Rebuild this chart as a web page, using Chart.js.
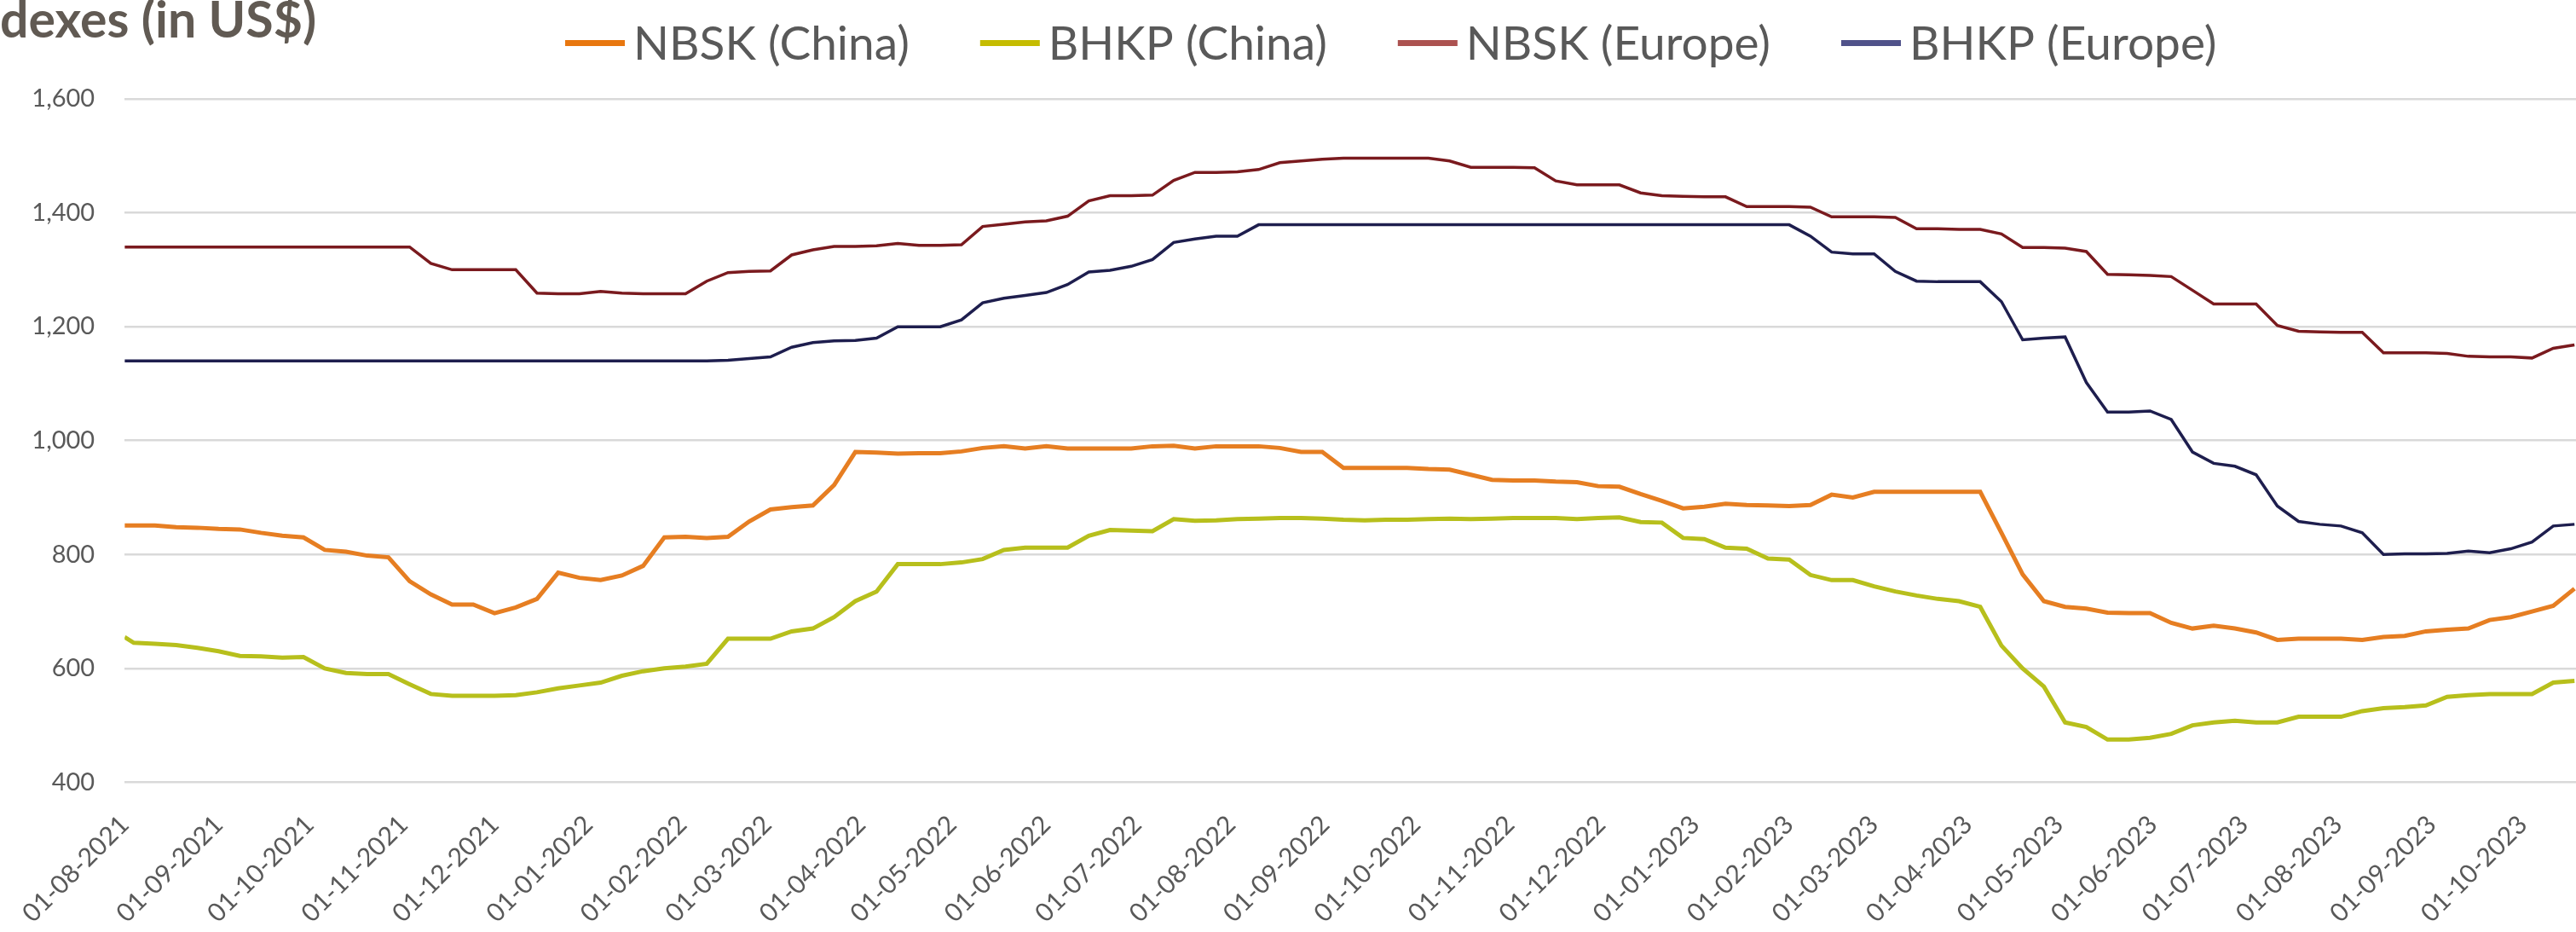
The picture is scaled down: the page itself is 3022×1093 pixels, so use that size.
<!DOCTYPE html>
<html>
<head>
<meta charset="utf-8">
<script src="https://cdn.jsdelivr.net/npm/chart.js@4.4.0/dist/chart.umd.min.js"></script>
<style>
  html, body { margin: 0; padding: 0; background: #ffffff; overflow: hidden; }
  #wrap { width: 3022px; height: 1093px; position: relative; }
</style>
</head>
<body>
<div id="wrap"><canvas id="c" width="3022" height="1093"></canvas></div>
<script>
// ---- Data ----
const titleText = 'dexes (in US$)';
const seriesLabels = ['NBSK (China)', 'BHKP (China)', 'NBSK (Europe)', 'BHKP (Europe)'];
const axisStartDate = '2021-08-01';   // first observation / axis start
const weeklyStartDate = '2021-08-04'; // weekly observations after the first one
const axisEndDay = 808.5;

const monthLabels = [
  '01-08-2021','01-09-2021','01-10-2021','01-11-2021','01-12-2021',
  '01-01-2022','01-02-2022','01-03-2022','01-04-2022','01-05-2022','01-06-2022',
  '01-07-2022','01-08-2022','01-09-2022','01-10-2022','01-11-2022','01-12-2022',
  '01-01-2023','01-02-2023','01-03-2023','01-04-2023','01-05-2023','01-06-2023',
  '01-07-2023','01-08-2023','01-09-2023','01-10-2023'
];

const nbskChina = [851,
  851, 851, 848, 847, 845, 844, 838, 833, 830, 808,
  805, 798, 795, 753, 730, 712, 712, 697, 707, 722,
  768, 759, 755, 763, 780, 830, 831, 829, 831, 858,
  879, 883, 886, 922, 980, 979, 977, 978, 978, 981,
  987, 990, 986, 990, 986, 986, 986, 986, 990, 991,
  986, 990, 990, 990, 987, 980, 980, 952, 952, 952,
  952, 950, 949, 940, 931, 930, 930, 928, 927, 920,
  919, 906, 894, 881, 884, 889, 887, 886, 885, 887,
  905, 900, 910, 910, 910, 910, 910, 910, 838, 765,
  718, 708, 705, 698, 697, 697, 680, 670, 675, 670,
  663, 650, 652, 652, 652, 650, 655, 657, 665, 668,
  670, 685, 690, 700, 710, 740];

const bhkpChina = [655,
  645, 643, 641, 636, 630, 622, 621, 619, 620, 600,
  592, 590, 590, 572, 555, 552, 552, 552, 553, 558,
  565, 570, 575, 587, 595, 600, 603, 608, 652, 652,
  652, 665, 670, 690, 718, 735, 783, 783, 783, 786,
  792, 808, 812, 812, 812, 833, 843, 842, 841, 862,
  859, 860, 862, 863, 864, 864, 863, 861, 860, 861,
  861, 862, 863, 862, 863, 864, 864, 864, 862, 864,
  865, 857, 856, 829, 827, 812, 810, 793, 791, 764,
  755, 755, 744, 735, 728, 722, 718, 708, 640, 600,
  568, 505, 497, 475, 475, 478, 485, 500, 505, 508,
  505, 505, 515, 515, 515, 525, 530, 532, 535, 550,
  553, 555, 555, 555, 575, 578];

const nbskEurope = [1340,
  1340, 1340, 1340, 1340, 1340, 1340, 1340, 1340, 1340, 1340,
  1340, 1340, 1340, 1340,
  1311, 1300, 1300, 1300, 1300,
  1259, 1258, 1258, 1262, 1259, 1258, 1258, 1258,
  1280, 1295, 1297, 1298,
  1326, 1335, 1341, 1341, 1342, 1346, 1343, 1343, 1344,
  1376, 1380, 1384, 1386, 1394,
  1421, 1430, 1430, 1431,
  1457, 1471, 1471, 1472, 1476, 1488, 1491, 1494, 1496, 1496, 1496, 1496, 1496,
  1491, 1480, 1480, 1480, 1479,
  1456, 1449, 1449, 1449,
  1435, 1430, 1429, 1428, 1428,
  1411, 1411, 1411, 1410,
  1393, 1393, 1393, 1392,
  1372, 1372, 1371, 1371,
  1363, 1339, 1339, 1338, 1332,
  1292, 1291, 1290, 1288,
  1264, 1240, 1240, 1240,
  1202, 1192, 1191, 1190, 1190,
  1154, 1154, 1154, 1153,
  1148, 1147, 1147, 1145,
  1162, 1168];

const bhkpEurope = [1140,
  1140, 1140, 1140, 1140, 1140, 1140, 1140, 1140, 1140, 1140,
  1140, 1140, 1140, 1140, 1140, 1140, 1140, 1140, 1140, 1140,
  1140, 1140, 1140, 1140, 1140, 1140, 1140, 1140,
  1141, 1144, 1147, 1164, 1172, 1175, 1176, 1180,
  1200, 1200, 1200, 1212, 1242, 1250, 1255, 1260, 1274, 1296, 1299, 1306, 1318, 1348, 1354, 1359, 1359,
  1379, 1379, 1379, 1379, 1379, 1379, 1379, 1379, 1379, 1379, 1379, 1379, 1379,
  1379, 1379, 1379, 1379, 1379, 1379, 1379, 1379, 1379, 1379, 1379, 1379, 1379,
  1359, 1331, 1328, 1328, 1297, 1280, 1279, 1279, 1279, 1244, 1177, 1180, 1182, 1102, 1050, 1050,
  1052, 1037, 980, 960, 955, 940, 885, 858, 853, 850, 838, 800, 801, 801, 802, 806, 803, 810,
  822, 850, 853];

// ---- Helpers (dates -> day offsets) ----
const DAY = 86400000;
const t0 = Date.parse(axisStartDate + 'T00:00:00Z');
const tw = Date.parse(weeklyStartDate + 'T00:00:00Z');
const pointDays = [0];
for (let k = 0; k < nbskChina.length - 1; k++) {
  pointDays.push(Math.round((tw + k * 7 * DAY - t0) / DAY));
}
function dmyToDay(s) {
  const [d, m, y] = s.split('-').map(Number);
  return Math.round((Date.UTC(y, m - 1, d) - t0) / DAY);
}
const tickDays = monthLabels.map(dmyToDay);
const toXY = arr => arr.map((v, i) => ({ x: pointDays[i], y: v }));

const lineColors   = ['#E67E22', '#B7BF1C', '#7A1A1E', '#1E1E4E'];
const legendColors = ['#E8770F', '#C5BC00', '#AC5250', '#50528A'];
const lineWidths   = [5, 5, 3.5, 3.5];
const seriesData = [nbskChina, bhkpChina, nbskEurope, bhkpEurope];

const datasets = seriesData.map((arr, i) => ({
  label: seriesLabels[i],
  data: toXY(arr),
  borderColor: lineColors[i],
  backgroundColor: lineColors[i],
  borderWidth: lineWidths[i],
  pointRadius: 0,
  pointHoverRadius: 0,
  tension: 0,
  fill: false,
  legendColor: legendColors[i]
}));

// ---- Plugins: title and legend drawn on the canvas ----
const titlePlugin = {
  id: 'cutTitle',
  afterDraw(chart) {
    const ctx = chart.ctx;
    ctx.save();
    ctx.font = 'bold 59px Lato';
    ctx.fillStyle = '#615a53';
    ctx.textBaseline = 'alphabetic';
    ctx.textAlign = 'left';
    ctx.fillText(titleText, 0, 44);
    ctx.restore();
  }
};

const legendPlugin = {
  id: 'lineLegend',
  afterDraw(chart) {
    const ctx = chart.ctx;
    ctx.save();
    ctx.font = '55px Lato';
    ctx.textBaseline = 'alphabetic';
    ctx.textAlign = 'left';
    let x = 663;
    chart.data.datasets.forEach(ds => {
      ctx.fillStyle = ds.legendColor;
      ctx.fillRect(x, 47, 70, 7);
      ctx.fillStyle = '#595959';
      ctx.fillText(ds.label, x + 80, 70);
      x += 80 + ctx.measureText(ds.label).width + 83;
    });
    ctx.restore();
  }
};

new Chart(document.getElementById('c'), {
  type: 'line',
  data: { datasets },
  options: {
    responsive: false,
    animation: false,
    devicePixelRatio: 1,
    layout: { padding: { top: 116, left: 0, right: 0, bottom: 0 } },
    plugins: {
      legend: { display: false },
      title: { display: false },
      tooltip: { enabled: false }
    },
    scales: {
      x: {
        type: 'linear',
        min: 0,
        max: axisEndDay,
        afterBuildTicks: s => { s.ticks = tickDays.map(v => ({ value: v })); },
        afterFit: s => { s.height = 1093 - 917.4; },
        grid: { display: false, drawTicks: false },
        border: { display: false },
        ticks: {
          autoSkip: false,
          minRotation: 45,
          maxRotation: 45,
          padding: 32,
          color: '#595959',
          font: { family: 'Lato', size: 30 },
          callback: (v, i) => monthLabels[i]
        }
      },
      y: {
        min: 400,
        max: 1600,
        afterFit: s => { s.width = 135; },
        grid: { color: '#d9d9d9', lineWidth: 2.5, drawTicks: false },
        border: { display: false },
        ticks: {
          stepSize: 200,
          padding: 35,
          color: '#595959',
          font: { family: 'Lato', size: 29 },
          callback: v => v.toLocaleString('en-US')
        }
      }
    }
  },
  plugins: [titlePlugin, legendPlugin]
});
</script>
</body>
</html>
